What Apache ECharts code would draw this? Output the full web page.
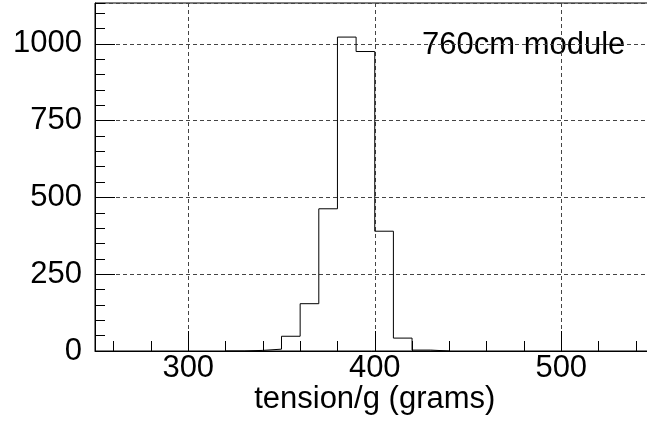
<!DOCTYPE html>
<html>
<head>
<meta charset="utf-8">
<script src="https://cdn.jsdelivr.net/npm/echarts@6/dist/echarts.min.js"></script>
<style>
html,body{margin:0;padding:0;background:#fff;}
#c{width:647px;height:423px;}
</style>
</head>
<body>
<div id="c"></div>
<script>
// ---- data ----
const binStart = [330, 340, 350, 360, 370, 380, 390, 400, 410, 420];
const binWidth = 10;
const counts = [2, 6, 48, 154, 463, 1022, 975, 390, 42, 3];
const xTickValues = [300, 400, 500];
const yTickValues = [0, 250, 500, 750, 1000];
const xTitle = 'tension/g (grams)';
const annotation = '760cm module';

const X_MIN = 250, X_MAX = 550, Y_MAX = 1133;

// ---- layout ----
const FONT = '"Liberation Sans", Arial, sans-serif';
const gLeft = 95, gRightEdge = 654.5;
const pxPerUnit = (gRightEdge - gLeft) / (X_MAX - X_MIN);
const gTop = 3, gHeight = 348;

// step points for the histogram outline
const pts = [[binStart[0] - binWidth, 0]];
binStart.forEach((x, i) => pts.push([x, counts[i]]));
const lastEdge = binStart[binStart.length - 1] + binWidth;
pts.push([lastEdge, 0]);
pts.push([lastEdge + binWidth, 0]);

const dash = { color: '#444', type: [4, 3], width: 1 };
const hiddenY = (gi) => ({ type: 'value', gridIndex: gi, min: 0, max: 1, show: false });
const gridAt = (startVal) => {
  const l = gLeft + (startVal - X_MIN) * pxPerUnit;
  return { left: l, width: gRightEdge - l, top: gTop, height: gHeight, containLabel: false, outerBoundsMode: 'none' };
};

const chart = echarts.init(document.getElementById('c'), null, { renderer: 'canvas' });
chart.setOption({
  animation: false,
  backgroundColor: '#fff',
  grid: [
    Object.assign(gridAt(X_MIN), { show: true, borderColor: '#000', borderWidth: 1, backgroundColor: 'transparent' }),
    gridAt(260),
    gridAt(xTickValues[0])
  ],
  xAxis: [
    {
      type: 'value', gridIndex: 0, min: X_MIN, max: X_MAX,
      axisLine: { show: true, lineStyle: { color: '#000', width: 1 } },
      axisTick: { show: false }, axisLabel: { show: false }, splitLine: { show: false },
      name: xTitle, nameLocation: 'middle', nameGap: 33,
      nameTextStyle: { fontFamily: FONT, fontSize: 31, color: '#000' }
    },
    {
      type: 'value', gridIndex: 1, min: 260, max: X_MAX, interval: 20,
      axisLine: { show: false },
      axisTick: { show: true, inside: true, length: 10, lineStyle: { color: '#000', width: 1 } },
      axisLabel: { show: false }, splitLine: { show: false }
    },
    {
      type: 'value', gridIndex: 2, min: xTickValues[0], max: X_MAX, interval: 100,
      axisLine: { show: false },
      axisTick: { show: true, inside: true, length: 20, lineStyle: { color: '#000', width: 1 } },
      axisLabel: {
        show: true, margin: 2, fontFamily: FONT, fontSize: 31, color: '#000',
        showMaxLabel: false,
        formatter: (v) => xTickValues.includes(v) ? String(v) : ''
      },
      splitLine: { show: true, lineStyle: dash }
    }
  ],
  yAxis: [
    {
      type: 'value', gridIndex: 0, position: 'left', min: 0, max: Y_MAX, interval: 250,
      axisLine: { show: true, lineStyle: { color: '#000', width: 1 } },
      axisTick: { show: true, inside: true, length: 20, lineStyle: { color: '#000', width: 1 } },
      axisLabel: {
        show: true, margin: 13, fontFamily: FONT, fontSize: 31, color: '#000',
        showMaxLabel: false,
        formatter: (v) => yTickValues.includes(v) ? String(v) : ''
      },
      splitLine: { show: true, lineStyle: dash }
    },
    {
      type: 'value', gridIndex: 0, position: 'left', offset: 0, min: 0, max: Y_MAX, interval: 50,
      axisLine: { show: false },
      axisTick: { show: true, inside: true, length: 10, lineStyle: { color: '#000', width: 1 } },
      axisLabel: { show: false }, splitLine: { show: false }
    },
    hiddenY(1),
    hiddenY(2)
  ],
  series: [{
    type: 'line', xAxisIndex: 0, yAxisIndex: 0,
    step: 'end', symbol: 'none',
    lineStyle: { color: '#000', width: 1 },
    data: pts
  }],
  graphic: [{
    type: 'text', left: 422, top: 30,
    style: { text: annotation, font: '31px ' + FONT, fill: '#000' }
  }]
});
</script>
</body>
</html>
